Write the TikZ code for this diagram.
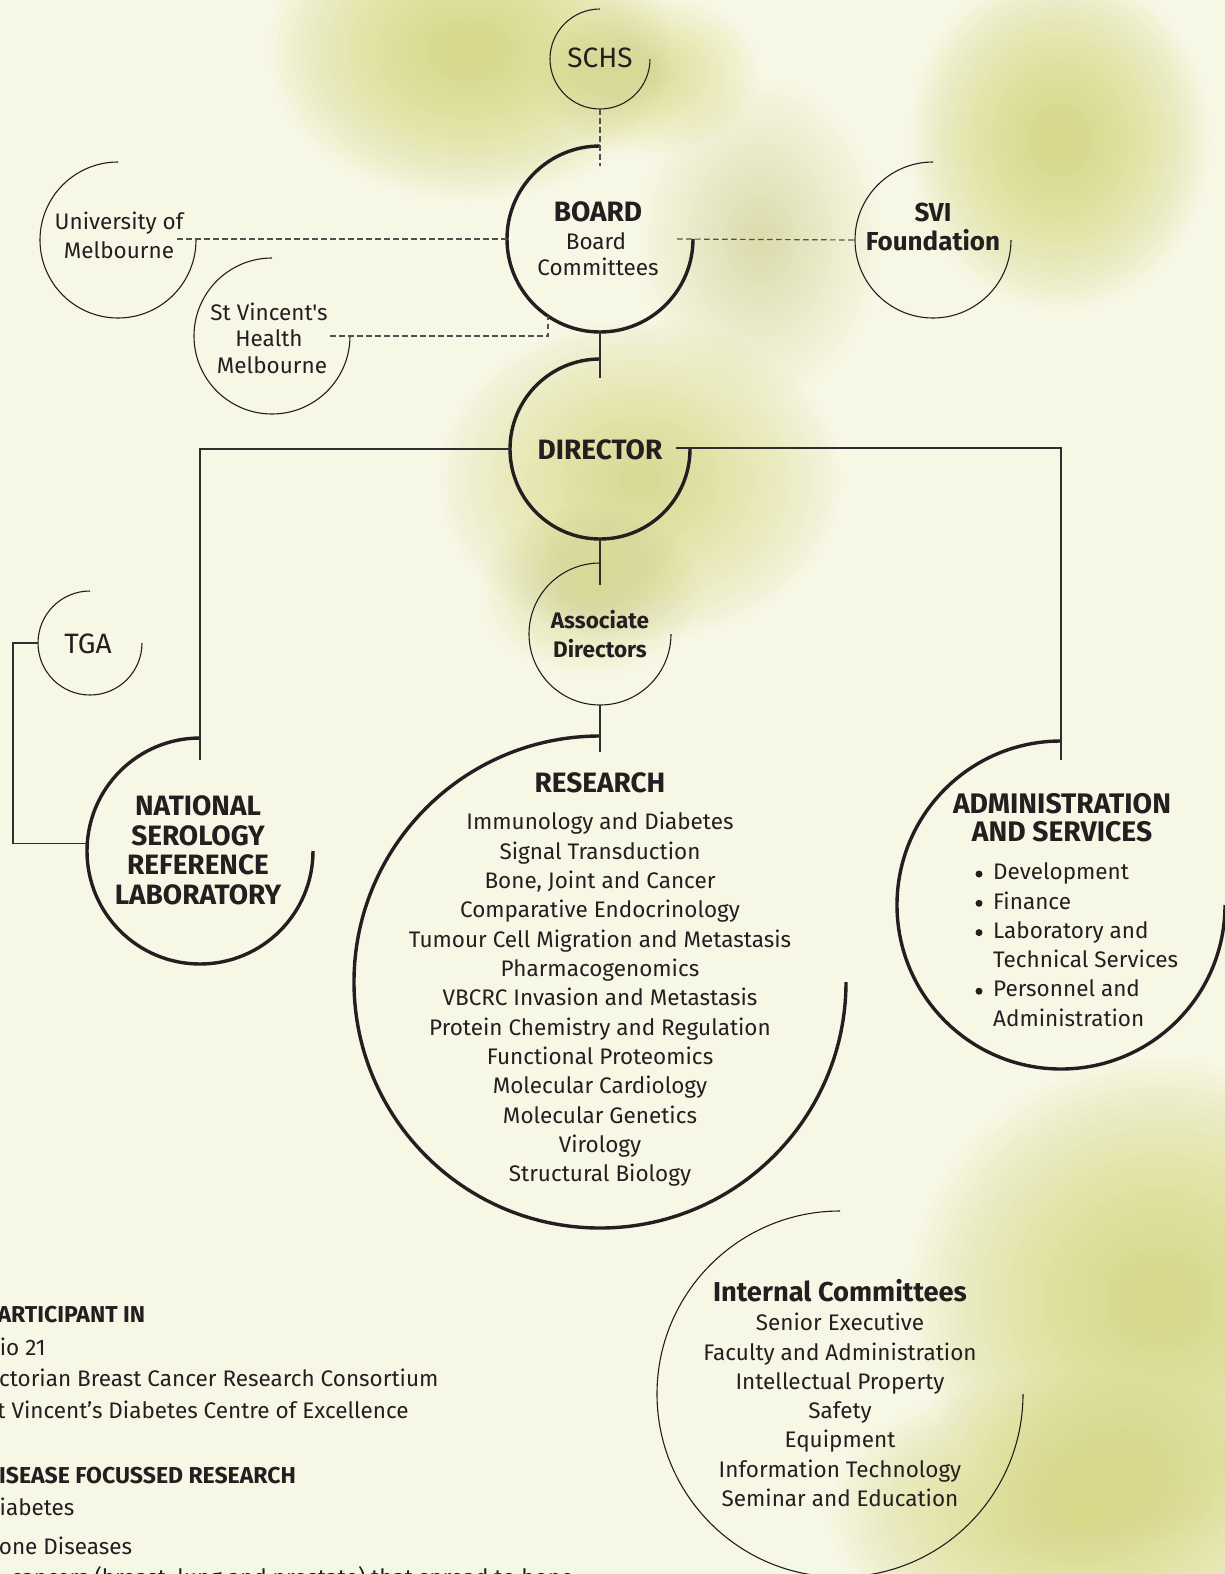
\documentclass[tikz,border=0pt]{standalone}
\usepackage{fontspec}
\setmainfont{Fira Sans}[Ligatures=TeXOff]
\definecolor{paper}{HTML}{F7F7E6}
\definecolor{blobc}{HTML}{D8D97A}
\definecolor{ink}{HTML}{231F20}
\definecolor{linec}{HTML}{2E2E2E}
\definecolor{dashc}{HTML}{505050}
% soft patch: stacked translucent ellipses, x, y, x radius, y radius, layer opacity
\newcommand\softblob[5]{%
  \foreach \k in {0,...,27}{%
    \fill[blobc,opacity=#5] (#1,#2) ellipse [x radius={#3*(1-\k/28)}, y radius={#4*(1-\k/28)}];%
  }%
}

\begin{document}
\begin{tikzpicture}[x=1pt,y=-1pt,
  ring/.style={circle,minimum size=#1,inner sep=0pt,outer sep=0pt},
  thinarc/.style={draw=ink,line width=1.1pt},
  thickarc/.style={draw=ink,line width=3.4pt},
  link/.style={draw=linec,line width=1.2pt},
  dashlink/.style={draw=dashc,line width=1.2pt,dash pattern=on 5.5pt off 3.5pt},
  dot/.style={circle,fill=ink,inner sep=0pt,minimum size=7pt},
  reg/.style={font=\fontsize{22.5}{27}\selectfont,text=ink,inner sep=0pt,text height=15.5pt,text depth=0pt},
  regbold/.style={reg,font=\fontsize{22.5}{27}\bfseries\selectfont},
  big/.style={font=\fontsize{28}{32}\selectfont,text=ink,inner sep=0pt,text height=19.3pt,text depth=0pt},
  head/.style={font=\fontsize{28}{32}\bfseries\selectfont,text=ink,inner sep=0pt,text height=19.3pt,text depth=0pt},
  side/.style={font=\fontsize{22.5}{27}\selectfont,text=ink,inner sep=0pt,text height=15.5pt,text depth=0pt,anchor=west},
  sidehead/.style={side,font=\fontsize{23}{27}\bfseries\selectfont,text height=15.8pt}
]
\useasboundingbox (0,0) rectangle (1225,1574);
\clip (0,0) rectangle (1225,1574);

% paper and soft yellow-green patches
\fill[paper] (0,0) rectangle (1225,1574);
\softblob{470}{50}{200}{150}{0.056}
\softblob{650}{75}{110}{80}{0.03}
\softblob{1060}{140}{150}{170}{0.056}
\softblob{760}{240}{120}{160}{0.02}
\softblob{640}{480}{200}{160}{0.04}
\softblob{590}{590}{110}{85}{0.025}
\softblob{1160}{1300}{250}{240}{0.056}
\softblob{1080}{1515}{250}{140}{0.05}

% circle frames (named, drawn as open three-quarter rings)
\node[ring=100pt] (schs)  at (600,59)   {};
\node[ring=186pt] (board) at (600,239)  {};
\node[ring=156pt] (uni)   at (118,240)  {};
\node[ring=156pt] (stv)   at (272,336)  {};
\node[ring=156pt] (svi)   at (933,240)  {};
\node[ring=180pt] (dir)   at (600,449)  {};
\node[ring=142pt] (assoc) at (600,634)  {};
\node[ring=104pt] (tga)   at (90,643)   {};
\node[ring=226pt] (nsrl)  at (200,851)  {};
\node[ring=492pt] (res)   at (600,982)  {};
\node[ring=328pt] (admin) at (1061,905) {};
\node[ring=366pt] (intc)  at (840,1394) {};

\draw[thinarc]  (schs.north)  arc[start angle=90,end angle=360,radius=50pt];
\draw[thickarc] (board.north) arc[start angle=90,end angle=360,radius=93pt];
\draw[thinarc]  (uni.north)   arc[start angle=90,end angle=360,radius=78pt];
\draw[thinarc]  (stv.north)   arc[start angle=90,end angle=360,radius=78pt];
\draw[thinarc]  (svi.north)   arc[start angle=90,end angle=360,radius=78pt];
\draw[thickarc] (dir.north)   arc[start angle=90,end angle=360,radius=90pt];
\draw[thinarc]  (assoc.north) arc[start angle=90,end angle=360,radius=71pt];
\draw[thinarc]  (tga.north)   arc[start angle=90,end angle=360,radius=52pt];
\draw[thickarc] (nsrl.north)  arc[start angle=90,end angle=360,radius=113pt];
\draw[thickarc] (res.north)   arc[start angle=90,end angle=360,radius=246pt];
\draw[thickarc] (admin.north) arc[start angle=90,end angle=360,radius=164pt];
\draw[thinarc]  (intc.north)  arc[start angle=90,end angle=360,radius=183pt];

% connector end points that sit inside a frame
\coordinate (schsend)   at (600,166);
\coordinate (unidash)   at (177,239);
\coordinate (boarddash) at (677,239);
\coordinate (stvdash)   at (330,336);
\coordinate (dirin)     at (600,378);
\coordinate (dirright)  at (676,448);
\coordinate (nsrlin)    at (200,760);
\coordinate (adminin)   at (1061,760);
\coordinate (associn)   at (600,585);
\coordinate (resin)     at (600,752);

% dashed affiliations
\draw[dashlink] (schs.south) -- (schsend);
\draw[dashlink] (unidash) -- (board.west);
\draw[dashlink] (boarddash) -- (svi.west);
\draw[dashlink] (stvdash) -- (stvdash -| board.236) -- (board.236);

% reporting lines
\draw[link] (board.south) -- (dirin);
\draw[link] (dir.west) -- (dir.west -| nsrlin) -- (nsrlin);
\draw[link] (dirright) -- (dirright -| adminin) -- (adminin);
\draw[link] (dir.south) -- (associn);
\draw[link] (assoc.south) -- (resin);
\draw[link] (tga.west) -- ++(-25,0) |- (nsrl.176);

% labels
\node[big] (schst) at (600,58) {SCHS};
\node[head] (boardt) at (598,212) {BOARD};
\node[reg] (boardc1) at (596,242) {Board};
\node[reg] (boardc2) at (598,268) {Committees};
\node[reg] (uni1) at (119,222) {University of};
\node[reg] (uni2) at (119,251) {Melbourne};
\node[reg] (stv1) at (269,313) {St Vincent's};
\node[reg] (stv2) at (269,339) {Health};
\node[reg] (stv3) at (272,366) {Melbourne};
\node[head,font=\fontsize{26}{30}\bfseries\selectfont,text height=17.9pt] (svi1) at (933,213) {SVI};
\node[head,font=\fontsize{26}{30}\bfseries\selectfont,text height=17.9pt] (svi2) at (933,242) {Foundation};
\node[head] (dirt) at (600,450) {DIRECTOR};
\node[regbold] (assoc1) at (600,621) {Associate};
\node[regbold] (assoc2) at (600,650) {Directors};
\node[big] (tgat) at (88,644) {TGA};

\foreach \t [count=\i] in {NATIONAL,SEROLOGY,REFERENCE,LABORATORY}
  \node[head] (nsrl\i) at (198,{806+(\i-1)*29.5}) {\t};

\node[head] (rest) at (600,783) {RESEARCH};
\foreach \t [count=\i] in {Immunology and Diabetes,Signal Transduction,{Bone, Joint and Cancer},Comparative Endocrinology,Tumour Cell Migration and Metastasis,Pharmacogenomics,VBCRC Invasion and Metastasis,Protein Chemistry and Regulation,Functional Proteomics,Molecular Cardiology,Molecular Genetics,Virology,Structural Biology}
  \node[reg] (res\i) at (600,{822+(\i-1)*29.35}) {\t};

\node[head,font=\fontsize{28.3}{32}\bfseries\selectfont] (admint1) at (1062,804) {ADMINISTRATION};
\node[head,font=\fontsize{28.3}{32}\bfseries\selectfont] (admint2) at (1062,832) {AND SERVICES};
\foreach \t/\b [count=\i] in {Development/1,Finance/1,Laboratory and/1,Technical Services/0,Personnel and/1,Administration/0}{
  \node[side] (adm\i) at (993,{872+(\i-1)*29.3}) {\t};
  \ifnum\b=1 \node[dot] (admb\i) at (979,{874+(\i-1)*29.3}) {};\fi
}

\node[head,font=\fontsize{27.3}{32}\bfseries\selectfont] (intct) at (840,1292) {Internal Committees};
\foreach \t [count=\i] in {Senior Executive,Faculty and Administration,Intellectual Property,Safety,Equipment,Information Technology,Seminar and Education}
  \node[reg] (intc\i) at (840,{1323+(\i-1)*29.3}) {\t};

% programme notes along the lower left
\node[sidehead] (part) at (-15,1315) {PARTICIPANT IN};
\node[side] (part1) at (-14,1348) {Bio 21};
\node[side] (part2) at (-20,1379) {Victorian Breast Cancer Research Consortium};
\node[side] (part3) at (-15,1411) {St Vincent’s Diabetes Centre of Excellence};
\node[sidehead] (dis) at (-16,1476) {DISEASE FOCUSSED RESEARCH};
\node[side] (dis1) at (-15,1508) {Diabetes};
\node[side] (dis2) at (-15,1547) {Bone Diseases};
\node[side] (dis3) at (11,1578) {cancers (breast, lung and prostate) that spread to bone};
\end{tikzpicture}
\end{document}
